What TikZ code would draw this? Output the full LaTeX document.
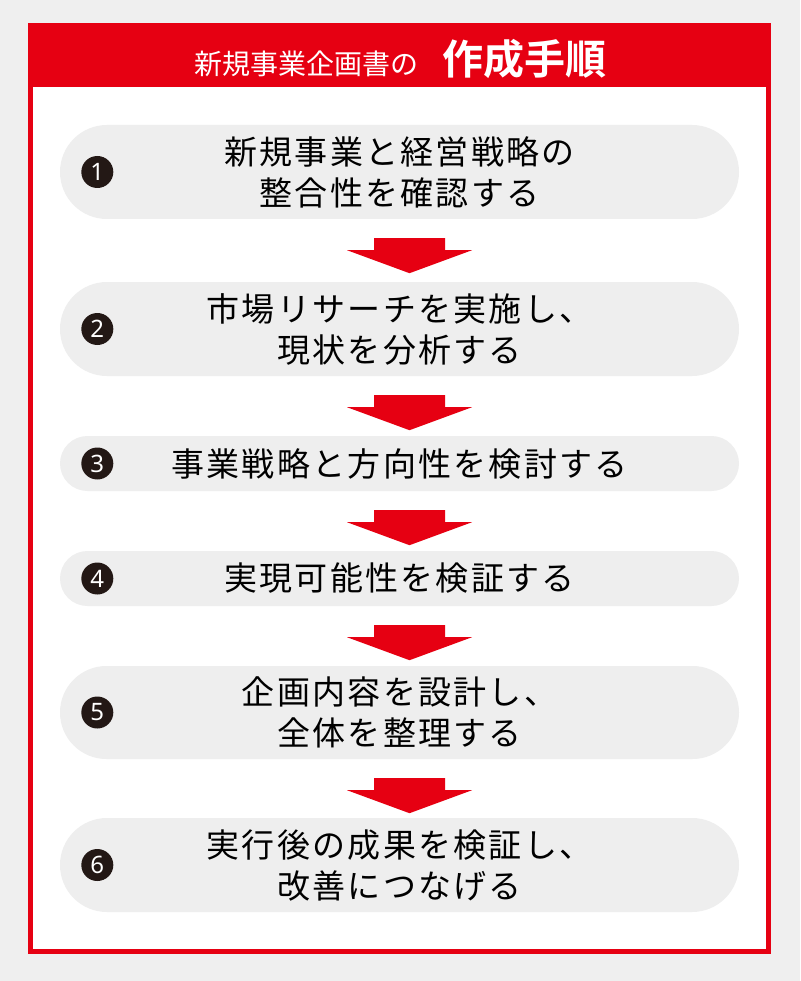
\documentclass[tikz,border=0pt]{standalone}
\usepackage{fontspec}
\usetikzlibrary{calc}
\newfontfamily\jp{Noto Sans CJK JP}
\newfontfamily\jpbody[LetterSpace=7]{Noto Sans CJK JP}
\newfontfamily\jpbold{Noto Sans CJK JP Bold}
\newfontfamily\numfont{Noto Sans}
\definecolor{mainred}{HTML}{E60012}
\definecolor{bggray}{HTML}{EFEFEF}
\definecolor{pillgray}{HTML}{EEEEEE}
\definecolor{numblack}{HTML}{231815}
\begin{document}
\begin{tikzpicture}[x=1pt,y=-1pt,
  pill/.style={rectangle, fill=pillgray, minimum width=679pt, inner sep=0pt, align=center,
    font={\jpbody\fontsize{33}{41}\selectfont}, text=black},
  numc/.style={circle, fill=numblack, minimum size=32pt, inner sep=0pt, text=white,
    font={\numfont\bfseries\fontsize{24}{24}\selectfont}},
  blockarrow/.style={fill=mainred}]
\useasboundingbox (0,0) rectangle (800,981);
\fill[bggray] (0,0) rectangle (800,981);
% frame
\fill[white] (30,25.5) rectangle (768.5,951.5);
\fill[mainred] (27.5,23) rectangle (771,87);
\draw[mainred, line width=5pt] (30,25.5) rectangle (768.5,951.5);
\node[text=white, inner sep=0pt] (title) at (400,59)
  {{\jp\fontsize{28}{28}\selectfont 新規事業企画書の}\hspace{24pt}{\jpbold\fontsize{41}{41}\selectfont 作成手順}};
% pills
\node[pill, minimum height=94pt, rounded corners=47pt] (p1) at (399.5,172) {新規事業と経営戦略の\\整合性を確認する};
\node[pill, minimum height=94pt, rounded corners=47pt] (p2) at (399.5,329) {市場リサーチを実施し、\\現状を分析する};
\node[pill, minimum height=55pt, rounded corners=27.5pt] (p3) at (399.5,463.5) {事業戦略と方向性を検討する};
\node[pill, minimum height=55pt, rounded corners=27.5pt] (p4) at (399.5,578.5) {実現可能性を検証する};
\node[pill, minimum height=93pt, rounded corners=46.5pt] (p5) at (399.5,712.5) {企画内容を設計し、\\全体を整理する};
\node[pill, minimum height=94pt, rounded corners=47pt] (p6) at (399.5,865) {実行後の成果を検証し、\\改善につなげる};
% numbers
\foreach \i in {1,...,6} {
  \node[numc] (n\i) at ($(p\i.west)+(37.5,0)$) {\i};
}
% arrows
\foreach \a/\b in {p1/p2,p2/p3,p3/p4,p4/p5,p5/p6} {
  \fill[blockarrow] ($(\a.south)+(-25.5,19)$) -- ($(\a.south)+(45.5,19)$) -- ($(\a.south)+(45.5,31)$)
    -- ($(\a.south)+(72.5,31)$) -- ($(\a.south)+(10,54)$) -- ($(\a.south)+(-52.5,31)$)
    -- ($(\a.south)+(-25.5,31)$) -- cycle;
}
\end{tikzpicture}
\end{document}
